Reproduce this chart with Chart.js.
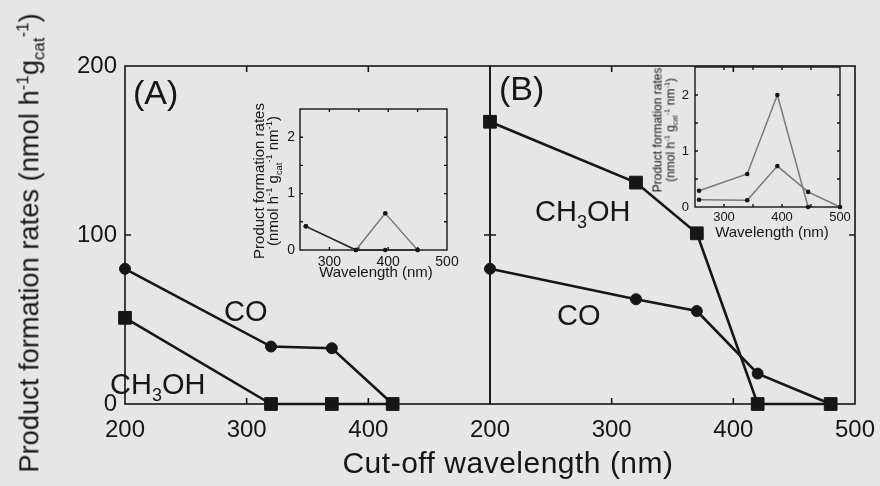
<!DOCTYPE html>
<html>
<head>
<meta charset="utf-8">
<title>Product formation rates vs cut-off wavelength</title>
<script src="https://cdn.jsdelivr.net/npm/chart.js@4.4.1/dist/chart.umd.min.js"></script>
<style>
  body { margin: 0; background: #e6e6e6; }
  #wrap { position: relative; width: 880px; height: 486px; overflow: hidden; background: #e6e6e6;
          font-family: "Liberation Sans", Arial, sans-serif; color: #161616; }
  #wrap canvas { position: absolute; left: 0; top: 0; }
  .lbl { position: absolute; white-space: nowrap; line-height: 1; }
  .rot { transform: translate(-50%, -50%) rotate(-90deg); text-align: center; }
  sup, sub { font-size: 62%; line-height: 0; }
</style>
</head>
<body>
<div id="wrap">
  <canvas id="mainA" width="880" height="486"></canvas>
  <canvas id="mainB" width="920" height="486"></canvas>
  <canvas id="insetA" width="880" height="486"></canvas>
  <canvas id="insetB" width="920" height="486"></canvas>

  <div class="lbl rot" style="left:29px;top:243px;font-size:27.3px">Product formation rates (nmol h<sup>-1</sup>g<sub>cat</sub><sup>-1</sup>)</div>
  <div class="lbl" style="left:508px;top:448px;font-size:30px;letter-spacing:0.5px;transform:translateX(-50%)">Cut-off wavelength (nm)</div>

  <div class="lbl" style="left:133px;top:75px;font-size:34px">(A)</div>
  <div class="lbl" style="left:499px;top:71px;font-size:34px">(B)</div>
  <div class="lbl" style="left:224px;top:297px;font-size:29px">CO</div>
  <div class="lbl" style="left:110px;top:370px;font-size:29px">CH<sub>3</sub>OH</div>
  <div class="lbl" style="left:535px;top:197px;font-size:29px">CH<sub>3</sub>OH</div>
  <div class="lbl" style="left:557px;top:301px;font-size:29px">CO</div>

  <div class="lbl rot" style="left:266px;top:181px;font-size:15px;line-height:14px">Product formation rates<br>(nmol h<sup>-1</sup> g<sub>cat</sub><sup>-1</sup> nm<sup>-1</sup>)</div>
  <div class="lbl" style="left:376px;top:264px;font-size:15px;transform:translateX(-50%)">Wavelength (nm)</div>
  <div class="lbl rot" style="left:664px;top:130px;font-size:12px;line-height:12.5px">Product formation rates<br>(nmol h<sup>-1</sup> g<sub>cat</sub><sup>-1</sup> nm<sup>-1</sup>)</div>
  <div class="lbl" style="left:772px;top:224px;font-size:15px;transform:translateX(-50%)">Wavelength (nm)</div>
</div>

<script>
// main panels, cut-off wavelength (nm) vs rate (nmol h-1 gcat-1)
const wavesA = [200, 320, 370, 420];
const coA    = [80, 34, 33, 0];
const meohA  = [51, 0, 0, 0];

const wavesB = [200, 320, 370, 420, 480];
const coB    = [80, 62, 55, 18, 0];
const meohB  = [167, 131, 101, 0, 0];

// insets, wavelength (nm) vs rate per nm
const insWavesA = [260, 345, 395, 450];
const insA1     = [0.42, 0, 0.65, 0];
const insA2     = [0.42, 0, 0, 0];

const insWavesB1 = [257, 340, 392, 445];
const insB1      = [0.29, 0.59, 2.0, 0];
const insWavesB2 = [257, 340, 392, 445, 500];
const insB2      = [0.13, 0.12, 0.73, 0.27, 0];

const mainXTicks = [200, 300, 400, 500];
const mainYTicks = [0, 100, 200];

const FONT = '"Liberation Sans", Arial, sans-serif';
const INK = '#161616';

function pts(xs, ys) {
  return xs.map((x, i) => ({ x: x, y: ys[i] }));
}

// frame round the plot area with inward ticks
const framePlugin = {
  id: 'frame',
  beforeDatasetsDraw(chart, args, opts) {
    const ctx = chart.ctx, a = chart.chartArea;
    const x = chart.scales.x, y = chart.scales.y;
    ctx.save();
    ctx.strokeStyle = INK;
    ctx.lineWidth = opts.width || 1.5;
    ctx.strokeRect(a.left, a.top, a.right - a.left, a.bottom - a.top);
    const len = opts.tick || 6;
    ctx.beginPath();
    x.ticks.forEach(t => {
      const px = x.getPixelForValue(t.value);
      if (px <= a.left + 1 || px >= a.right - 1) return;
      ctx.moveTo(px, a.top); ctx.lineTo(px, a.top + len);
      ctx.moveTo(px, a.bottom); ctx.lineTo(px, a.bottom - len);
    });
    y.ticks.forEach(t => {
      const py = y.getPixelForValue(t.value);
      if (py <= a.top + 1 || py >= a.bottom - 1) return;
      ctx.moveTo(a.left, py); ctx.lineTo(a.left + len, py);
      ctx.moveTo(a.right, py); ctx.lineTo(a.right - len, py);
    });
    ctx.stroke();
    ctx.restore();
  }
};

function mainChart(id, datasets, box, showY, hideLast) {
  const cv = document.getElementById(id);
  return new Chart(cv, {
    type: 'scatter',
    data: { datasets: datasets },
    options: {
      responsive: false,
      animation: false,
      layout: { padding: { left: 0, top: box.top, right: cv.width - box.right, bottom: 0 } },
      plugins: { legend: { display: false }, tooltip: { enabled: false }, frame: { width: 1.6, tick: 6 } },
      scales: {
        x: {
          type: 'linear', min: 200, max: 500,
          afterBuildTicks: s => { s.ticks = mainXTicks.map(v => ({ value: v })); },
          afterFit: s => { s.height = 486 - box.bottom; },
          grid: { display: false, drawTicks: false },
          border: { display: false },
          ticks: {
            padding: 12, color: INK, font: { family: FONT, size: 24 },
            callback: v => (hideLast && v === 500) ? '' : v
          }
        },
        y: {
          min: 0, max: 200,
          afterBuildTicks: s => { s.ticks = mainYTicks.map(v => ({ value: v })); },
          afterFit: s => { s.width = box.left; },
          grid: { display: false, drawTicks: false },
          border: { display: false },
          ticks: { display: showY, padding: 8, color: INK, font: { family: FONT, size: 24 } }
        }
      }
    },
    plugins: [framePlugin]
  });
}

function mainSet(xs, ys, style, radius) {
  return {
    data: pts(xs, ys), showLine: true, clip: false,
    borderColor: INK, borderWidth: 2.6,
    pointStyle: style, pointRadius: radius,
    pointBackgroundColor: INK, pointBorderColor: INK, pointBorderWidth: 1
  };
}

mainChart('mainA', [
  mainSet(wavesA, coA, 'circle', 5.5),
  mainSet(wavesA, meohA, 'rect', 9)
], { left: 125, right: 490, top: 66, bottom: 404 }, true, true);

mainChart('mainB', [
  mainSet(wavesB, coB, 'circle', 5.5),
  mainSet(wavesB, meohB, 'rect', 9)
], { left: 490, right: 855, top: 66, bottom: 404 }, false, false);

function insetChart(id, datasets, box, fontSize, pad) {
  const cv = document.getElementById(id);
  return new Chart(cv, {
    type: 'scatter',
    data: { datasets: datasets },
    options: {
      responsive: false,
      animation: false,
      layout: { padding: { left: 0, top: box.top, right: cv.width - box.right, bottom: 0 } },
      plugins: { legend: { display: false }, tooltip: { enabled: false }, frame: { width: 1.4, tick: 3 } },
      scales: {
        x: {
          type: 'linear', min: 250, max: 500,
          ticks: {
            stepSize: 50, padding: pad.x, color: INK, font: { family: FONT, size: fontSize },
            callback: v => v % 100 === 0 ? v : ''
          },
          afterFit: s => { s.height = 486 - box.bottom; },
          grid: { display: false, drawTicks: false },
          border: { display: false }
        },
        y: {
          min: 0, max: 2.5,
          ticks: {
            stepSize: 0.5, padding: pad.y, color: INK, font: { family: FONT, size: fontSize },
            callback: v => Number.isInteger(v) && v < 2.5 ? v : ''
          },
          afterFit: s => { s.width = box.left; },
          grid: { display: false, drawTicks: false },
          border: { display: false }
        }
      }
    },
    plugins: [framePlugin]
  });
}

function insetSet(xs, ys, color) {
  return {
    data: pts(xs, ys), showLine: true, clip: false,
    borderColor: color, borderWidth: 1.5,
    pointStyle: 'circle', pointRadius: 2.3,
    pointBackgroundColor: INK, pointBorderColor: INK, pointBorderWidth: 0
  };
}

insetChart('insetA', [
  insetSet(insWavesA, insA2, '#2a2a2a'),
  insetSet(insWavesA, insA1, '#7a7a7a')
], { left: 300, right: 447, top: 109, bottom: 250 }, 14, { x: 4, y: 5 });

insetChart('insetB', [
  insetSet(insWavesB1, insB1, '#7a7a7a'),
  insetSet(insWavesB2, insB2, '#7a7a7a')
], { left: 695, right: 840, top: 67, bottom: 207 }, 13, { x: 3, y: 6 });
</script>
</body>
</html>
